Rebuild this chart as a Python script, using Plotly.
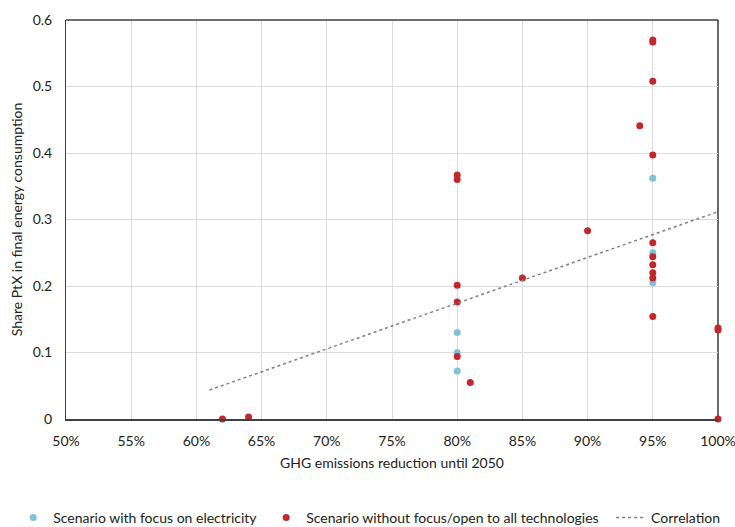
import numpy as np
import plotly.graph_objects as go

# GHG reduction (fraction) and PtX share
elec_x = [0.80, 0.80, 0.80, 0.95, 0.95, 0.95]
elec_y = [0.130, 0.100, 0.072, 0.362, 0.250, 0.205]

open_x = [0.62, 0.64, 0.80, 0.80, 0.80, 0.80, 0.80, 0.81, 0.85, 0.90, 0.94,
          0.95, 0.95, 0.95, 0.95, 0.95, 0.95, 0.95, 0.95, 0.95, 0.95,
          1.00, 1.00, 1.00]
open_y = [0.000, 0.003, 0.367, 0.360, 0.201, 0.176, 0.094, 0.055, 0.212, 0.283, 0.441,
          0.570, 0.567, 0.508, 0.397, 0.265, 0.244, 0.232, 0.220, 0.212, 0.154,
          0.137, 0.134, 0.000]

trend_x_range = [0.61, 1.00]

all_x = np.array(elec_x + open_x)
all_y = np.array(elec_y + open_y)
slope, intercept = np.polyfit(all_x, all_y, 1)
tx = np.array(trend_x_range)
ty = slope * tx + intercept

FONT = "Lato"
FS = 14
fig = go.Figure()
fig.add_trace(go.Scatter(x=elec_x, y=elec_y, mode="markers", cliponaxis=False,
                         name="Scenario with focus on electricity", legend="legend",
                         marker=dict(color="#80c3d6", size=7)))
fig.add_trace(go.Scatter(x=open_x, y=open_y, mode="markers", cliponaxis=False,
                         name="Scenario without focus/open to all technologies", legend="legend2",
                         marker=dict(color="#c0282c", size=7)))
fig.add_trace(go.Scatter(x=tx, y=ty, mode="lines", name="Correlation", legend="legend3",
                         line=dict(color="#808080", width=1.5, dash="dot")))

leg_common = dict(orientation="h", y=-0.248, yanchor="middle", xanchor="left",
                  font=dict(size=FS), bgcolor="rgba(0,0,0,0)")

fig.update_layout(
    width=735, height=527,
    margin=dict(l=66, r=17, t=20, b=108, autoexpand=False),
    paper_bgcolor="white", plot_bgcolor="white",
    font=dict(family=FONT, size=FS, color="#222"),
    showlegend=True,
    legend=dict(leg_common, x=-0.081, itemwidth=30),
    legend2=dict(leg_common, x=0.307, itemwidth=30),
    legend3=dict(leg_common, x=0.836, itemwidth=30),
    xaxis=dict(range=[0.5, 1.0], dtick=0.05, tickformat=".0%",
               showgrid=True, gridcolor="#dcdcdc", gridwidth=1,
               showline=True, linecolor="#404040", linewidth=2, mirror=False,
               zeroline=False, ticks="", ticklabelstandoff=8, ticklabeloverflow="allow",
               title=dict(text="GHG emissions reduction until 2050", standoff=10, font=dict(size=FS))),
    yaxis=dict(range=[0, 0.6], dtick=0.1,
               showgrid=True, gridcolor="#dcdcdc", gridwidth=1,
               showline=True, linecolor="#404040", linewidth=1, mirror=False,
               zeroline=False, ticks="", ticklabelstandoff=10,
               title=dict(text="Share PtX in final energy consumption", standoff=6, font=dict(size=FS))),
    shapes=[
        dict(type="line", xref="paper", yref="paper", x0=0, x1=1, y0=1, y1=1,
             line=dict(color="#404040", width=1.5), layer="above"),
        dict(type="line", xref="paper", yref="paper", x0=1, x1=1, y0=0, y1=1,
             line=dict(color="#6a6a6a", width=2), layer="below"),
    ],
)
fig.write_html("out.html", config={"displayModeBar": False},
               post_script="document.body.style.margin='0px';document.body.style.overflow='hidden';")
